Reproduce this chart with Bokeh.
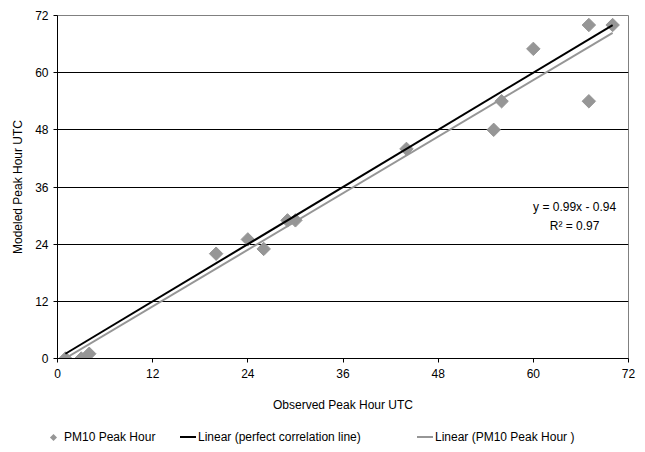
from bokeh.plotting import figure
from bokeh.layouts import column
from bokeh.models import Range1d, FixedTicker, Div
from bokeh.core.properties import value
from bokeh.embed import file_html
from bokeh.resources import INLINE

observed = [1, 3, 4, 20, 24, 26, 29, 30, 44, 55, 56, 60, 67, 67, 70]
modeled = [0, 0, 1, 22, 25, 23, 29, 29, 44, 48, 54, 65, 70, 54, 70]
perfect_x = [1, 70]
trend_slope = 0.99
trend_intercept = -0.94
trend_r2 = 0.97
ticks = [0, 12, 24, 36, 48, 60, 72]
series_labels = ["PM10 Peak Hour", "Linear (perfect correlation line)", "Linear (PM10 Peak Hour )"]

FONT = "Liberation Sans"
GRAY = "#969696"
ROT = 0.7853981634

p = figure(width=637, height=416, output_backend="svg", toolbar_location=None,
           x_range=Range1d(0, 72), y_range=Range1d(0, 72),
           min_border_left=57, min_border_right=9, min_border_top=15, min_border_bottom=58)
p.background_fill_color = "white"
p.border_fill_color = "white"
p.outline_line_color = "#808080"
p.outline_line_width = 1

p.xgrid.visible = False
p.ygrid.grid_line_color = "black"
p.ygrid.grid_line_width = 1
p.ygrid.ticker = FixedTicker(ticks=ticks)

for ax in (p.xaxis, p.yaxis):
    ax.ticker = FixedTicker(ticks=ticks)
    ax.axis_line_color = "black"
    ax.major_tick_line_color = "black"
    ax.major_tick_out = 4
    ax.major_tick_in = 0
    ax.minor_tick_line_color = None
    ax.major_label_text_font = FONT
    ax.major_label_text_font_size = "12px"
    ax.major_label_text_color = "black"
    ax.axis_label_text_font = FONT
    ax.axis_label_text_font_size = "12px"
    ax.axis_label_text_font_style = "normal"
    ax.axis_label_text_color = "black"

p.xaxis.axis_label = "Observed Peak Hour UTC"
p.yaxis.axis_label = "Modeled Peak Hour UTC"
p.xaxis.major_label_standoff = 6
p.xaxis.axis_label_standoff = 17
p.yaxis.major_label_standoff = 5
p.yaxis.axis_label_standoff = 7

p.scatter(observed, modeled, marker="square", size=9.5, angle=ROT,
          fill_color=GRAY, line_color=GRAY)

trend_y = [trend_slope * x + trend_intercept for x in perfect_x]
p.line(perfect_x, trend_y, line_color=GRAY, line_width=2)
p.line(perfect_x, perfect_x, line_color="black", line_width=2)

p.text(x=[65.2], y=[31.7], text=[f"y = {trend_slope}x - {abs(trend_intercept)}"],
       text_font=value(FONT), text_font_size="12px", text_align="center",
       text_baseline="middle", text_color="black")
p.text(x=[65.2], y=[27.9], text=[f"R\u00b2 = {trend_r2}"],
       text_font=value(FONT), text_font_size="12px", text_align="center",
       text_baseline="middle", text_color="black")

# legend strip (HTML)
items_html = (
    f'<span style="position:absolute;left:51px;top:19px;width:5px;height:5px;'
    f'background:{GRAY};transform:rotate(45deg);"></span>'
    f'<span style="position:absolute;left:64px;top:14px;line-height:14px;">{series_labels[0]}</span>'
    f'<span style="position:absolute;left:180px;top:20px;width:16px;height:2px;background:black;"></span>'
    f'<span style="position:absolute;left:198px;top:14px;line-height:14px;">{series_labels[1]}</span>'
    f'<span style="position:absolute;left:417px;top:20px;width:16px;height:2px;background:{GRAY};"></span>'
    f'<span style="position:absolute;left:435px;top:14px;line-height:14px;">{series_labels[2]}</span>'
)
legend_div = Div(
    text=(f'<div style="position:relative;width:637px;height:36px;font-family:\'{FONT}\';'
          f'font-size:12px;color:black;white-space:nowrap;">{items_html}</div>'),
    width=637, height=36, margin=(0, 0, 0, 0))

open("out.html", "w").write(file_html(column(p, legend_div, spacing=0), INLINE))
